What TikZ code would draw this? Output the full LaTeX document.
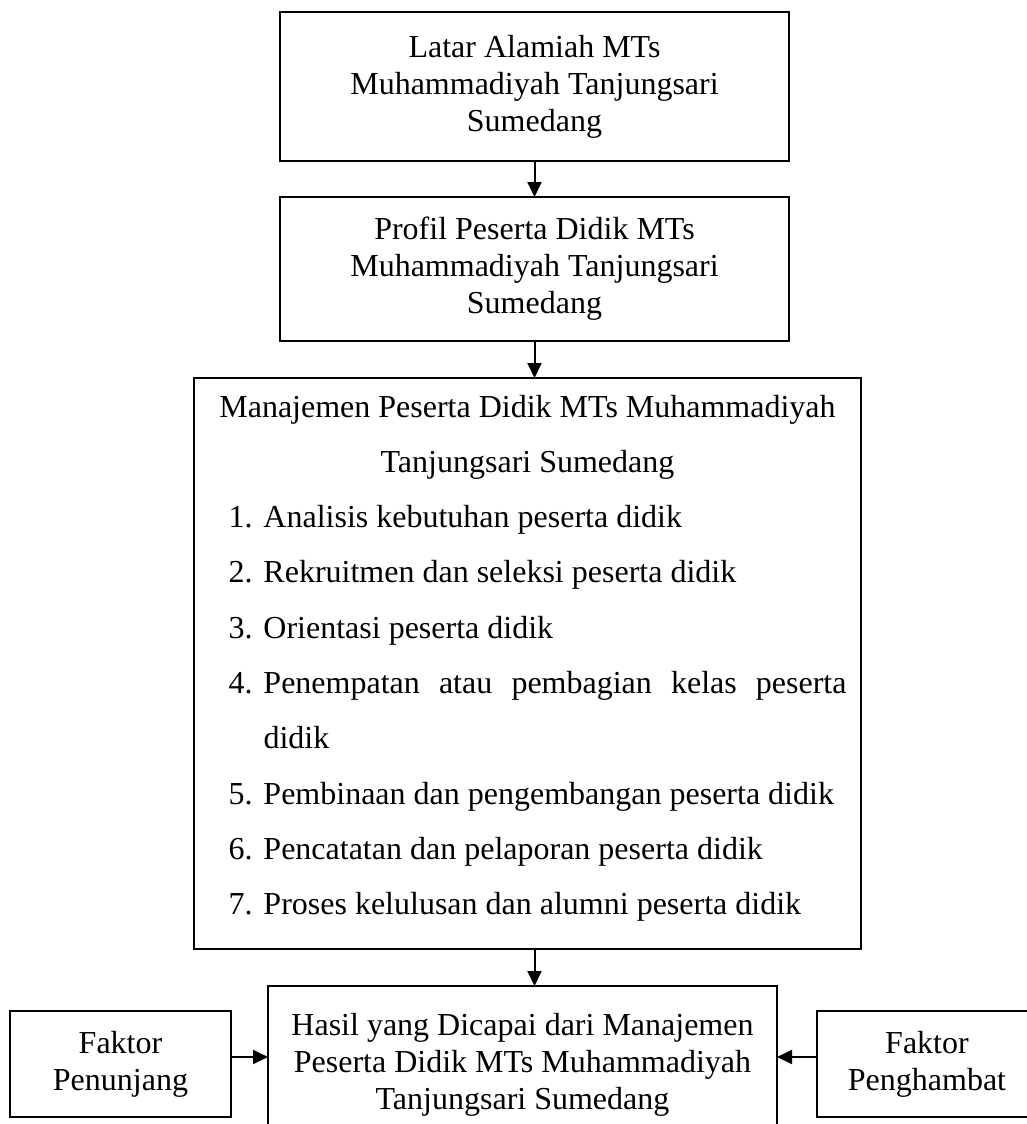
\documentclass[tikz,border=0pt]{standalone}
\usepackage{fontspec}
\setmainfont{Liberation Serif}
\usetikzlibrary{arrows.meta}

\newcommand\butir[2]{\par\noindent\hangindent=55pt\hangafter=1\hspace*{20pt}\makebox[35pt][l]{#1}#2\par}

\begin{document}
\begin{tikzpicture} [x=1pt, y=1pt,
  kotak/.style={draw, line width=2pt, outer sep=0pt, font=\fontsize{32}{37}\selectfont},
  panah/.style={line width=2pt, -{Triangle[length=15pt,width=14pt]}}]
 \useasboundingbox (0,0) rectangle (1027,-1124);
 \node (lat) at (534.5,-86.5) [kotak, minimum width=509pt, minimum height=149pt, align=center]
  {Latar Alamiah MTs\\ Muhammadiyah Tanjungsari\\ Sumedang};
 \node (pro) at (534.5,-269) [kotak, minimum width=509pt, minimum height=144pt, align=center]
  {Profil Peserta Didik MTs\\ Muhammadiyah Tanjungsari\\ Sumedang};
 \node (man) at (527.5,-378) [kotak, anchor=north, text width=638pt, inner xsep=14.5pt, inner ysep=0pt,
  text height=39pt, text depth=532pt, align=justify, font=\fontsize{32}{55.3}\selectfont]
  {\hyphenpenalty=10000 \tolerance=10000
   {\centering Manajemen Peserta Didik MTs Muhammadiyah\\ Tanjungsari Sumedang\par}
   \butir{1.}{Analisis kebutuhan peserta didik}
   \butir{2.}{Rekruitmen dan seleksi peserta didik}
   \butir{3.}{Orientasi peserta didik}
   \butir{4.}{Penempatan atau pembagian kelas peserta didik}
   \butir{5.}{Pembinaan dan pengembangan peserta didik}
   \butir{6.}{Pencatatan dan pelaporan peserta didik}
   \butir{7.}{Proses kelulusan dan alumni peserta didik}};
 \node (has) at (522.5,-986) [kotak, anchor=north, text width=480pt, inner xsep=14.5pt, inner ysep=0pt,
  text height=49pt, text depth=150pt, align=flush center]
  {Hasil yang Dicapai dari Manajemen\\ Peserta Didik MTs Muhammadiyah\\ Tanjungsari Sumedang};
 \node (pen) at (120.5,-1064) [kotak, minimum width=221pt, minimum height=106pt, align=center]
  {Faktor\\ Penunjang};
 \node (ham) at (927,-1064) [kotak, minimum width=220pt, minimum height=106pt, align=center]
  {Faktor\\ Penghambat};
 \draw [panah] (lat) -- (pro);
 \draw [panah] (pro.south) -- (pro.south |- man.north);
 \draw [panah] (man.south -| pro.south) -- (has.north -| pro.south);
 \draw [panah] ([yshift=7pt]pen.east) -- ([yshift=7pt]pen.east -| has.west);
 \draw [panah] ([yshift=7pt]ham.west) -- ([yshift=7pt]ham.west -| has.east);
\end{tikzpicture}
\end{document}
